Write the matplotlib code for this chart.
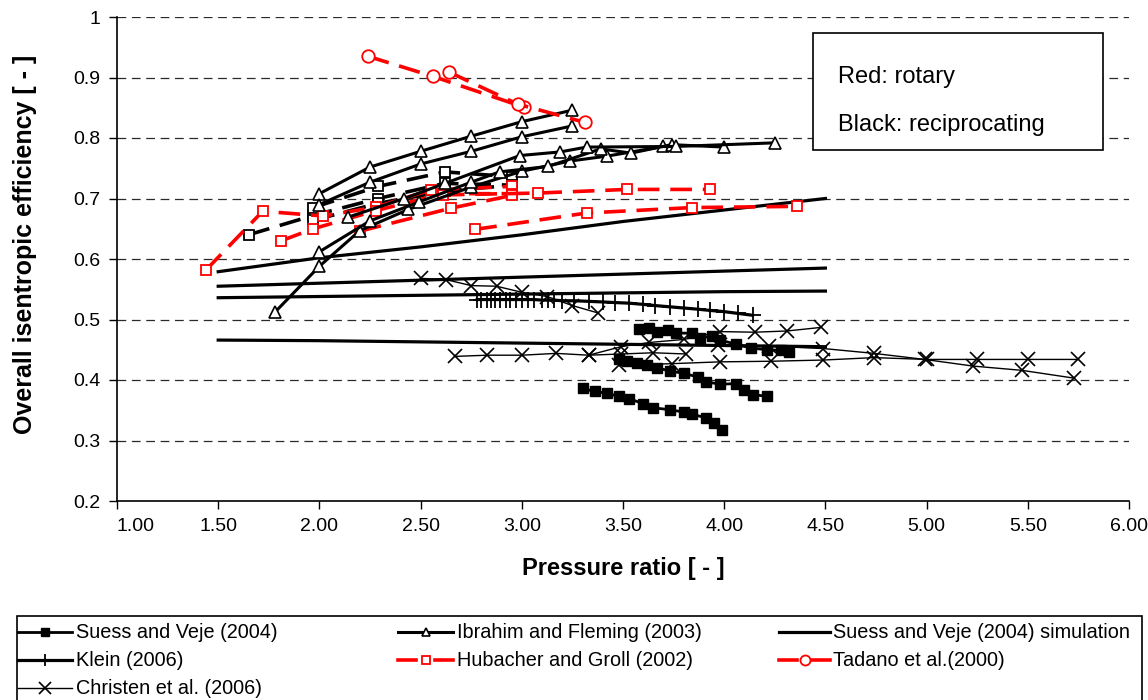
import matplotlib
matplotlib.use("Agg")
import matplotlib.pyplot as plt
from matplotlib.lines import Line2D
from matplotlib.patches import Rectangle

plt.rcParams['font.family'] = ['Liberation Sans', 'DejaVu Sans']

# ---------------- data ----------------
# Suess and Veje (2004) experimental (filled squares)
suess_x1 = [3.58, 3.63, 3.67, 3.72, 3.76, 3.84, 3.88, 3.94, 3.98, 4.06, 4.13, 4.21, 4.28, 4.32]
suess_y1 = [0.485, 0.486, 0.480, 0.483, 0.478, 0.477, 0.470, 0.472, 0.466, 0.459, 0.453, 0.450, 0.449, 0.446]
suess_x2 = [3.48, 3.52, 3.57, 3.62, 3.67, 3.73, 3.80, 3.87, 3.91, 3.98, 4.06, 4.10, 4.14, 4.21]
suess_y2 = [0.434, 0.431, 0.428, 0.424, 0.420, 0.415, 0.411, 0.405, 0.397, 0.393, 0.394, 0.383, 0.376, 0.373]
suess_x3 = [3.30, 3.36, 3.42, 3.48, 3.53, 3.60, 3.65, 3.73, 3.80, 3.84, 3.91, 3.95, 3.99]
suess_y3 = [0.386, 0.381, 0.378, 0.373, 0.369, 0.361, 0.354, 0.351, 0.347, 0.343, 0.338, 0.329, 0.318]

# Ibrahim and Fleming (2003) (open triangles)
ibr_x1 = [2.00, 2.25, 2.50, 2.75, 3.00, 3.25]
ibr_y1 = [0.708, 0.752, 0.778, 0.803, 0.827, 0.846]
ibr_x2 = [2.00, 2.25, 2.50, 2.75, 3.00, 3.25]
ibr_y2 = [0.690, 0.727, 0.757, 0.778, 0.802, 0.820]
ibr_x3 = [1.78, 2.00, 2.20, 2.44, 2.75, 3.00, 3.24, 3.42, 3.70]
ibr_y3 = [0.512, 0.588, 0.647, 0.682, 0.719, 0.745, 0.762, 0.770, 0.786]
ibr_x4 = [2.00, 2.25, 2.49, 2.75, 2.89, 3.13, 3.39, 3.54, 3.74, 4.00]
ibr_y4 = [0.612, 0.663, 0.694, 0.727, 0.744, 0.753, 0.782, 0.775, 0.789, 0.785]
ibr_x5 = [2.14, 2.42, 2.62, 2.99, 3.19, 3.32, 3.76, 4.25]
ibr_y5 = [0.669, 0.700, 0.725, 0.771, 0.777, 0.785, 0.786, 0.792]

# Suess and Veje (2004) simulation (plain thick lines)
sim_x = [1.5, 2.0, 2.5, 3.0, 3.5, 4.0, 4.5]
sim_y1 = [0.579, 0.602, 0.620, 0.640, 0.662, 0.681, 0.700]
sim_y2 = [0.555, 0.560, 0.565, 0.570, 0.575, 0.580, 0.585]
sim_y3 = [0.536, 0.538, 0.540, 0.542, 0.544, 0.546, 0.547]
sim_y4 = [0.466, 0.465, 0.463, 0.461, 0.459, 0.457, 0.455]

# Klein (2006) (+ markers)
klein_x = [2.78, 2.80, 2.83, 2.85, 2.87, 2.89, 2.92, 2.94, 2.97, 3.00, 3.03, 3.06, 3.10, 3.13,
           3.16, 3.20, 3.26, 3.33, 3.40, 3.46, 3.53, 3.60, 3.66, 3.73, 3.80, 3.87, 3.93, 4.00,
           4.07, 4.14]
klein_y = [0.533, 0.533, 0.533, 0.533, 0.533, 0.533, 0.533, 0.533, 0.533, 0.533, 0.533, 0.533,
           0.532, 0.532, 0.532, 0.531, 0.531, 0.530, 0.529, 0.528, 0.527, 0.525, 0.523, 0.521,
           0.519, 0.517, 0.515, 0.513, 0.510, 0.507]

# Hubacher and Groll (2002) (red dashed, open squares)
hub_x1 = [1.44, 1.72, 2.02, 2.28, 2.55, 2.95]
hub_y1 = [0.582, 0.679, 0.671, 0.686, 0.714, 0.720]
hub_x2 = [1.81, 1.97, 2.28, 2.61, 2.95]
hub_y2 = [0.630, 0.650, 0.680, 0.708, 0.708]
hub_x3 = [2.20, 2.65, 2.95]
hub_y3 = [0.646, 0.684, 0.705]
hub_x4 = [2.77, 3.32, 3.84, 4.36]
hub_y4 = [0.649, 0.676, 0.685, 0.687]
hub_x5 = [2.61, 3.08, 3.52, 3.93]
hub_y5 = [0.706, 0.709, 0.715, 0.715]
# black (reciprocating) dashed series with open squares
hubk_x1 = [1.65, 1.97, 2.29, 2.62, 2.95]
hubk_y1 = [0.640, 0.672, 0.700, 0.725, 0.722]
hubk_x2 = [1.97, 2.29, 2.62, 2.95]
hubk_y2 = [0.685, 0.720, 0.744, 0.736]
hubk_x3 = [1.97, 2.29, 2.62, 2.95]
hubk_y3 = [0.664, 0.692, 0.712, 0.722]

# Tadano et al. (2000) (red dashed, open circles)
tad_x1 = [2.24, 2.56, 3.01]
tad_y1 = [0.935, 0.902, 0.851]
tad_x2 = [2.64, 2.98, 3.31]
tad_y2 = [0.909, 0.856, 0.826]

# Christen et al. (2006) (thin line, x markers)
chr_x1 = [2.50, 2.625, 2.75, 2.875, 3.00, 3.125, 3.25, 3.375]
chr_y1 = [0.568, 0.566, 0.556, 0.555, 0.545, 0.538, 0.523, 0.511]
chr_x2 = [2.67, 2.83, 3.00, 3.17, 3.33, 3.49, 3.65, 3.81]
chr_y2 = [0.439, 0.441, 0.441, 0.444, 0.441, 0.443, 0.445, 0.443]
chr_x3 = [3.33, 3.49, 3.63, 3.80, 3.98, 4.15, 4.31, 4.48]
chr_y3 = [0.441, 0.455, 0.462, 0.467, 0.480, 0.479, 0.481, 0.487]
chr_x4 = [3.48, 3.74, 3.98, 4.23, 4.49, 4.74, 5.00, 5.25, 5.50, 5.75]
chr_y4 = [0.424, 0.427, 0.430, 0.431, 0.433, 0.437, 0.434, 0.434, 0.434, 0.434]
chr_x5 = [3.97, 4.22, 4.49, 4.74, 4.99, 5.23, 5.47, 5.73]
chr_y5 = [0.458, 0.456, 0.452, 0.444, 0.434, 0.423, 0.416, 0.403]

x_ticks = [1.0, 1.5, 2.0, 2.5, 3.0, 3.5, 4.0, 4.5, 5.0, 5.5, 6.0]
y_ticks = [0.2, 0.3, 0.4, 0.5, 0.6, 0.7, 0.8, 0.9, 1.0]
y_tick_labels = ['0.2', '0.3', '0.4', '0.5', '0.6', '0.7', '0.8', '0.9', '1']

legend_labels = ['Suess and Veje (2004)', 'Ibrahim and Fleming (2003)', 'Suess and Veje (2004) simulation',
                 'Klein (2006)', 'Hubacher and Groll (2002)', 'Tadano et al.(2000)', 'Christen et al. (2006)']

# ---------------- styles ----------------
RED = '#ff0000'
st_suess = dict(color='black', lw=2.0, marker='s', ms=7, mfc='black', mec='black')
st_ibr = dict(color='black', lw=2.2, marker='^', ms=8, mfc='white', mec='black', mew=1.2)
st_sim = dict(color='black', lw=2.3)
st_klein = dict(color='black', lw=2.3, marker='+', ms=11, mew=1.3)
st_hub = dict(color=RED, lw=2.6, ls=(0, (6, 3)), marker='s', ms=7.5, mfc='white', mec=RED, mew=1.3)
st_hubk = dict(color='black', lw=2.6, ls=(0, (6, 3)), marker='s', ms=7.5, mfc='white', mec='black', mew=1.3)
st_tad = dict(color=RED, lw=2.6, ls=(0, (6, 3)), marker='o', ms=9, mfc='white', mec=RED, mew=1.3)
st_chr = dict(color='black', lw=1.0, marker='x', ms=10.5, mew=1.2)

W, H = 1148, 700
fig = plt.figure(figsize=(W / 100, H / 100), dpi=100)
ax = fig.add_axes([117 / W, 1 - 501 / H, (1129 - 117) / W, (501 - 17) / H])

for yv in y_ticks[1:]:
    ax.axhline(yv, color='#2a2a2a', lw=0.9, ls=(0, (7, 4.5)), zorder=0)

for xs, ys in [(sim_x, sim_y1), (sim_x, sim_y2), (sim_x, sim_y3), (sim_x, sim_y4)]:
    ax.plot(xs, ys, **st_sim)
for xs, ys in [(chr_x1, chr_y1), (chr_x2, chr_y2), (chr_x3, chr_y3), (chr_x4, chr_y4), (chr_x5, chr_y5)]:
    ax.plot(xs, ys, **st_chr)
ax.plot(klein_x, klein_y, **st_klein)
for xs, ys in [(suess_x1, suess_y1), (suess_x2, suess_y2), (suess_x3, suess_y3)]:
    ax.plot(xs, ys, **st_suess)
for xs, ys in [(hubk_x1, hubk_y1), (hubk_x2, hubk_y2), (hubk_x3, hubk_y3)]:
    ax.plot(xs, ys, **st_hubk)
for xs, ys in [(hub_x1, hub_y1), (hub_x2, hub_y2), (hub_x3, hub_y3), (hub_x4, hub_y4), (hub_x5, hub_y5)]:
    ax.plot(xs, ys, **st_hub)
for xs, ys in [(ibr_x1, ibr_y1), (ibr_x2, ibr_y2), (ibr_x3, ibr_y3), (ibr_x4, ibr_y4), (ibr_x5, ibr_y5)]:
    ax.plot(xs, ys, **st_ibr)
for xs, ys in [(tad_x1, tad_y1), (tad_x2, tad_y2)]:
    ax.plot(xs, ys, **st_tad)

ax.set_xlim(1.0, 6.0)
ax.set_ylim(0.2, 1.0)
ax.set_xticks(x_ticks)
ax.set_xticklabels(['%.2f' % v for v in x_ticks])
ax.set_yticks(y_ticks)
ax.set_yticklabels(y_tick_labels)
ax.tick_params(direction='out', length=6, width=1, labelsize=14, pad=6)
ax.get_xticklabels()[0].set_horizontalalignment('left')
for s in ['top', 'right']:
    ax.spines[s].set_visible(False)
for s in ['left', 'bottom']:
    ax.spines[s].set_linewidth(1.2)
ax.set_xlabel('Pressure ratio [ - ]', fontsize=17, fontweight='bold', labelpad=16)
ax.set_ylabel('Overall isentropic efficiency [ - ]', fontsize=18, fontweight='bold')
ax.yaxis.set_label_coords(-0.079, 0.53)

def fx(px):
    return px / W

def fy(py):
    return 1 - py / H

# annotation box
fig.add_artist(Rectangle((fx(813), fy(150)), fx(1103) - fx(813), fy(33) - fy(150),
                         transform=fig.transFigure, fill=True, fc='white', ec='black', lw=1.2, zorder=5))
fig.text(fx(838), fy(77), 'Red: rotary', fontsize=17, va='center', ha='left', zorder=6)
fig.text(fx(838), fy(125), 'Black: reciprocating', fontsize=17, va='center', ha='left', zorder=6)

# legend (manual, three columns)
fig.add_artist(Rectangle((fx(17), -0.02), fx(1142) - fx(17), fy(616) + 0.02,
                         transform=fig.transFigure, fill=False, ec='black', lw=1.2))
leg_styles = [st_suess, st_ibr, st_sim, st_klein, st_hub, st_tad, st_chr]
col_handle = [(18, 72), (398, 453), (779, 830)]
col_text = [76, 457, 833]
row_y = [632, 660, 688]
for i, (lab, st) in enumerate(zip(legend_labels, leg_styles)):
    r, c = divmod(i, 3)
    x0, x1 = col_handle[c]
    st2 = dict(st)
    st2.pop('ls', None)
    if st in (st_hub, st_tad):
        ms = st2.pop('ms')
        fig.add_artist(Line2D([fx(x0), fx(x0 + 18)], [fy(row_y[r])] * 2, transform=fig.transFigure,
                              color=st2['color'], lw=st2['lw']))
        fig.add_artist(Line2D([fx(x1 - 18), fx(x1)], [fy(row_y[r])] * 2, transform=fig.transFigure,
                              color=st2['color'], lw=st2['lw']))
        fig.add_artist(Line2D([fx((x0 + x1) / 2)], [fy(row_y[r])], transform=fig.transFigure,
                              ls='none', marker=st2['marker'], ms=ms * 0.8, mfc='white',
                              mec=st2['mec'], mew=st2['mew']))
    else:
        mk = st2.pop('marker', None)
        ms = st2.pop('ms', None)
        mfc = st2.pop('mfc', None)
        mec = st2.pop('mec', None)
        mew = st2.pop('mew', None)
        fig.add_artist(Line2D([fx(x0), fx(x1)], [fy(row_y[r])] * 2, transform=fig.transFigure,
                              color=st2['color'], lw=st2['lw']))
        if mk is not None:
            kw = dict(ls='none', marker=mk, ms=ms * 0.8, color='black')
            if mfc is not None:
                kw['mfc'] = mfc
            if mec is not None:
                kw['mec'] = mec
            if mew is not None:
                kw['mew'] = mew
            fig.add_artist(Line2D([fx((x0 + x1) / 2)], [fy(row_y[r])], transform=fig.transFigure, **kw))
    fig.text(fx(col_text[c]), fy(row_y[r]), lab, fontsize=14.3, va='center', ha='left')

fig.savefig('out.png', dpi=100)
